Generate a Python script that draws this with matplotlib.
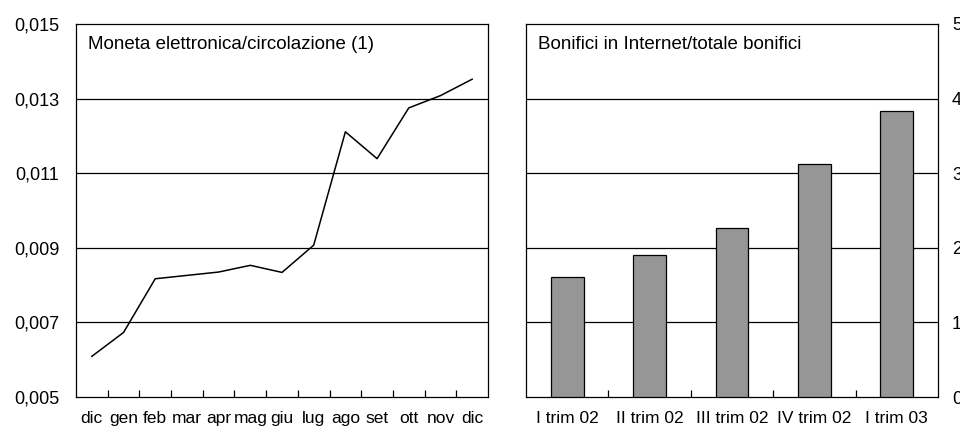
import matplotlib
matplotlib.use("Agg")
import matplotlib.pyplot as plt
import numpy as np

plt.rcParams['font.family'] = ['Liberation Sans', 'DejaVu Sans']

months = ["dic", "gen", "feb", "mar", "apr", "mag", "giu", "lug", "ago", "set", "ott", "nov", "dic"]
moneta = [0.00609, 0.00673, 0.00817, 0.00826, 0.00835, 0.00853, 0.00834, 0.00907,
          0.01211, 0.01139, 0.01275, 0.01308, 0.01352]
left_yticks = [0.005, 0.007, 0.009, 0.011, 0.013, 0.015]
left_ylabels = ["0,005", "0,007", "0,009", "0,011", "0,013", "0,015"]

quarters = ["I trim 02", "II trim 02", "III trim 02", "IV trim 02", "I trim 03"]
bonifici = [1.61, 1.91, 2.26, 3.12, 3.84]
right_yticks = [0, 1, 2, 3, 4, 5]

fig = plt.figure(figsize=(9.6, 4.28), dpi=100)
W, H = 960, 428
ax1 = fig.add_axes([76 / W, 1 - 397 / H, (488 - 76) / W, (397 - 24) / H])
ax2 = fig.add_axes([526 / W, 1 - 397 / H, (938 - 526) / W, (397 - 24) / H])

fs_y = 13
fs_x = 12.5
fs_t = 13.5

# Left line chart
x = np.arange(len(months))
ax1.plot(x, moneta, color='black', lw=1.1, zorder=3)
ax1.set_xlim(-0.5, len(months) - 0.5)
ax1.set_ylim(0.005, 0.015)
ax1.set_yticks(left_yticks)
ax1.set_yticklabels(left_ylabels, fontsize=fs_y)
for v in left_yticks[1:-1]:
    ax1.axhline(v, color='black', lw=0.9, zorder=1)
ax1.set_xticks(x)
ax1.set_xticklabels(months, fontsize=fs_x)
ax1.tick_params(axis='x', which='major', length=0, pad=10)
ax1.set_xticks(np.arange(0.5, len(months) - 1, 1.0), minor=True)
ax1.tick_params(axis='x', which='minor', direction='in', length=5, width=0.9)
ax1.tick_params(axis='y', length=0, pad=12)
ax1.text(0.029, 0.944, "Moneta elettronica/circolazione (1)", transform=ax1.transAxes,
         fontsize=fs_t, va='center', ha='left')

# Right bar chart
xq = np.arange(len(quarters))
ax2.bar(xq, bonifici, width=0.4, color='#969696', edgecolor='black', lw=0.9, zorder=3)
ax2.set_xlim(-0.5, len(quarters) - 0.5)
ax2.set_ylim(0, 5)
for v in right_yticks[1:-1]:
    ax2.axhline(v, color='black', lw=0.9, zorder=1)
ax2.yaxis.tick_right()
ax2.set_yticks(right_yticks)
ax2.set_yticklabels([str(v) for v in right_yticks], fontsize=fs_y)
ax2.tick_params(axis='y', length=0, pad=10)
ax2.set_xticks(xq)
ax2.set_xticklabels(quarters, fontsize=fs_x)
ax2.tick_params(axis='x', which='major', length=0, pad=10)
ax2.set_xticks(np.arange(0.5, len(quarters) - 1, 1.0), minor=True)
ax2.tick_params(axis='x', which='minor', direction='in', length=5, width=0.9)
ax2.text(0.029, 0.944, "Bonifici in Internet/totale bonifici", transform=ax2.transAxes,
         fontsize=fs_t, va='center', ha='left')

for ax in (ax1, ax2):
    for s in ax.spines.values():
        s.set_linewidth(0.9)

fig.savefig("out.png", dpi=100)
